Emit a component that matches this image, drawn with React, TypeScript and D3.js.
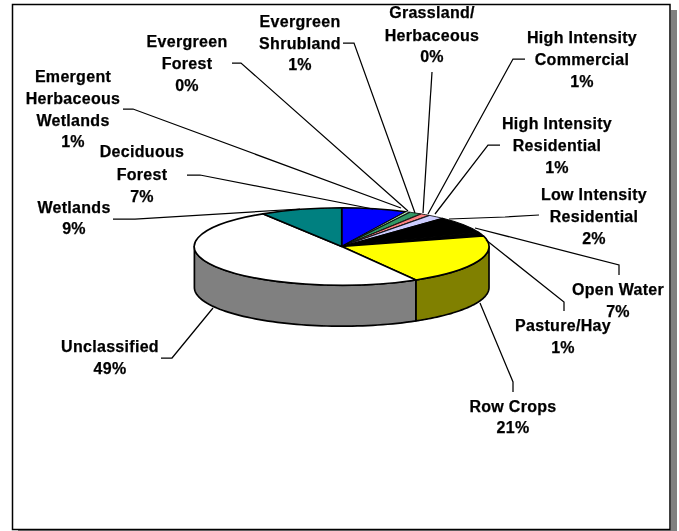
import React from "react";
import * as d3 from "d3";

const categories = ["Deciduous Forest","Emergent Herbaceous Wetlands","Evergreen Forest","Evergreen Shrubland","Grassland/Herbaceous","High Intensity Commercial","High Intensity Residential","Low Intensity Residential","Open Water","Pasture/Hay","Row Crops","Unclassified","Wetlands"];
// slice shares
const shares = [7.2,0.4,0.1,1.3,0.1,1.0,0.1,1.8,7.0,1.6,21.0,49.4,9.0];
const topColors = ["#0000ff","#ccffcc","#ffffff","#339966","#ffffff","#ff8080","#ccccff","#ccccff","#000000","#000000","#ffff00","#ffffff","#008080"];
const sideColors = ["#000080","#66aa66","#888888","#1a4d33","#888888","#804040","#666680","#666680","#000000","#000000","#808000","#808080","#004040"];
const thinStroke = [1.6,0.7,0.5,0.8,0.5,0.8,0.5,0.8,1.2,1.2,1.6,1.6,1.6];

const labelLines = [
  ["Deciduous","Forest","7%"],
  ["Emergent","Herbaceous","Wetlands","1%"],
  ["Evergreen","Forest","0%"],
  ["Evergreen","Shrubland","1%"],
  ["Grassland/","Herbaceous","0%"],
  ["High Intensity","Commercial","1%"],
  ["High Intensity","Residential","1%"],
  ["Low Intensity","Residential","2%"],
  ["Open Water","7%"],
  ["Pasture/Hay","1%"],
  ["Row Crops","21%"],
  ["Unclassified","49%"],
  ["Wetlands","9%"],
];
const labelX = [142,73,187,300,432,582,557,594,618,563,513,110,74];
const labelBaselines = [
  [157,180,202],[82,104,126,147],[47,69,91],[27,49,70],[18,41,62],[43,65,87],
  [129,151,173],[200,222,244],[295,317],[331,353],[412,433],[352,374],[213,234],
];
const leaders: [number,number][][] = [
  [[187,175],[200,175],[373,209]],
  [[123,109],[133,109],[401,208]],
  [[232,63],[241,63],[408,211]],
  [[343,43],[354,43],[415,213]],
  [[432,72],[423,213]],
  [[525,59],[513,59],[428,214]],
  [[500,145],[488,145],[435,214]],
  [[539,215],[505,217],[449,219]],
  [[619,275],[619,265],[475,228]],
  [[564,311],[564,302],[486,240]],
  [[513,392],[513,382],[480,303]],
  [[161,358],[172,358],[213,308]],
  [[113,219],[135,219],[300,209]],
];

const W = 679, H = 531;
const cx = 341.7, cy = 246.5, rx = 147.3, ry = 38.7, depth = 41;

const pieGen = d3.pie<number>().sort(null).value((d) => d);
const arcs = pieGen(shares);
const arcGen = d3.arc<any>().innerRadius(0).outerRadius(1);
const lineGen = d3.line<[number, number]>();
const rimX = d3.scaleLinear().domain([-1, 1]).range([cx - rx, cx + rx]);
const rimY = d3.scaleLinear().domain([-1, 1]).range([cy - ry, cy + ry]);

function sidePath(a0: number, a1: number) {
  const s = Math.max(a0, Math.PI / 2), e = Math.min(a1, Math.PI * 1.5);
  if (e <= s) return null;
  const n = 60;
  const top = d3.range(n + 1).map((i) => {
    const t = s + ((e - s) * i) / n;
    return [rimX(Math.sin(t)), rimY(-Math.cos(t))] as [number, number];
  });
  const bottom = top.slice().reverse().map(([x, y]) => [x, y + depth] as [number, number]);
  return lineGen([...top, ...bottom]) + "Z";
}

const font = "'Liberation Sans', Arial, sans-serif";

export default function App() {
  return (
    <svg width={W} height={H} viewBox={`0 0 ${W} ${H}`} style={{ position: "fixed", left: 0, top: 0, display: "block", background: "#fff" }}>
      <defs>
        <filter id="soft" x="-5%" y="-5%" width="110%" height="110%">
          <feGaussianBlur stdDeviation="0.35" />
        </filter>
        <clipPath id="frameClip"><rect x={13} y={5} width={657} height={524} /></clipPath>
      </defs>
      <rect x={671} y={10} width={6} height={521} fill="#808080" />
      <rect x={18} y={530} width={659} height={1} fill="#808080" />
      <rect x={12.5} y={4.5} width={657.5} height={525} fill="#fff" stroke="#000" strokeWidth={1.5} />
      <g filter="url(#soft)">
        <g stroke="#000" strokeWidth={1.7} strokeLinejoin="round">
          {arcs.map((a, i) => {
            const d = sidePath(a.startAngle, a.endAngle);
            return d ? <path key={i} d={d} fill={sideColors[i]} /> : null;
          })}
        </g>
        <g transform={`translate(${cx},${cy}) scale(${rx},${ry})`}>
          {arcs.map((a, i) => (
            <path key={i} d={arcGen(a) as string} fill={topColors[i]} stroke="#000" strokeWidth={thinStroke[i]} vectorEffect="non-scaling-stroke" strokeLinejoin="round" />
          ))}
        </g>
        <g fill="none" stroke="#000" strokeWidth={1.25}>
          {leaders.map((p, i) => <path key={categories[i]} d={lineGen(p) as string} />)}
        </g>
        <g clipPath="url(#frameClip)" fontFamily={font} fontWeight={700} fontSize={16} letterSpacing={0.3} fill="#000" stroke="#000" strokeWidth={0.25} textAnchor="middle">
          {labelLines.map((lines, i) =>
            lines.map((t, j) => (
              <text key={`${i}-${j}`} x={labelX[i]} y={labelBaselines[i][j]}>{t}</text>
            ))
          )}
        </g>
      </g>
    </svg>
  );
}
